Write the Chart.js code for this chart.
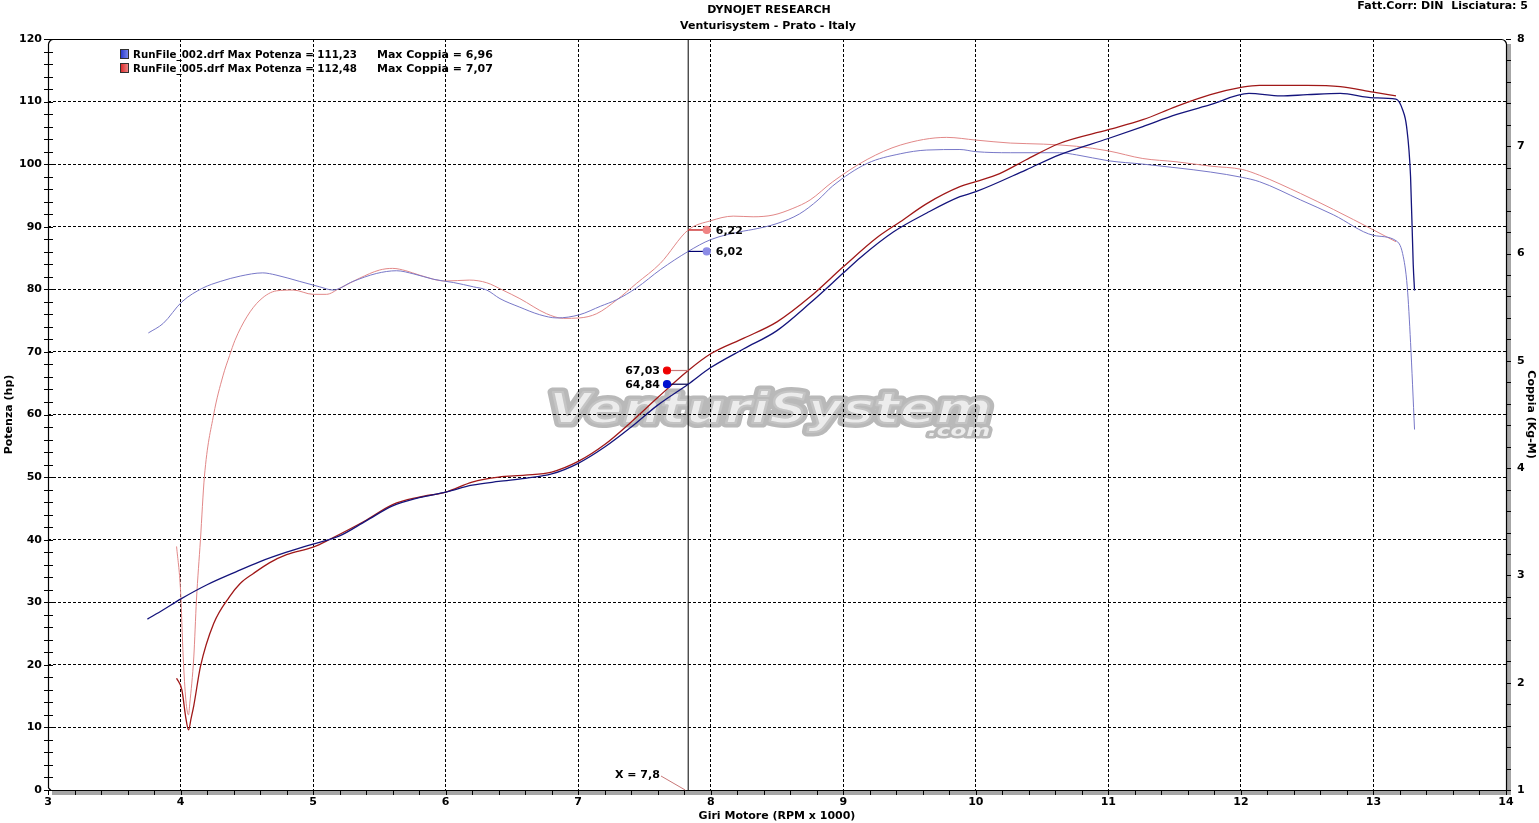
<!DOCTYPE html>
<html>
<head>
<meta charset="utf-8">
<title>Dynojet - Venturisystem</title>
<script src="https://cdn.jsdelivr.net/npm/chart.js@4.4.0/dist/chart.umd.min.js"></script>
<style>
  html, body { margin: 0; padding: 0; background: #fff; }
  #wrap { width: 1539px; height: 823px; }
</style>
</head>
<body>
<div id="wrap"><canvas id="dynoChart" width="1539" height="823"></canvas></div>
<script>
// run names and summary values from the legend
const runNames = ['RunFile_002.drf', 'RunFile_005.drf'];
const maxPotenza = ['111,23', '112,48'];
const maxCoppia = ['6,96', '7,07'];

// RunFile_002 (blue) - power, hp
const rpmPowA = [3.75, 3.87, 4.0, 4.2, 4.4, 4.6, 4.8, 5.0, 5.2, 5.4, 5.6, 5.8, 6.0, 6.2, 6.4, 6.6, 6.8, 7.0, 7.2, 7.4, 7.6, 7.83,
  8.0, 8.25, 8.5, 8.75, 9.0, 9.13, 9.38, 9.63, 9.88, 10.0, 10.38, 10.63, 11.0, 11.26, 11.51, 11.77, 12.06, 12.3, 12.5, 12.75,
  13.0, 13.17, 13.22, 13.25, 13.28, 13.3, 13.31];
const powA = [27.3, 28.8, 30.5, 32.8, 34.7, 36.5, 38.0, 39.3, 40.6, 43.0, 45.4, 46.7, 47.6, 48.7, 49.3, 49.8, 50.5, 52.2, 54.8, 58.0, 61.5, 64.84,
  67.5, 70.5, 73.4, 77.8, 82.6, 85.1, 89.2, 92.2, 94.8, 95.6, 99.1, 101.5, 104.1, 106.0, 107.9, 109.5, 111.3, 110.9, 111.1, 111.3,
  110.6, 110.4, 108.7, 106.0, 98.0, 84.0, 79.8];

// RunFile_005 (red) - power, hp
const rpmPowB = [3.97, 4.01, 4.04, 4.06, 4.08, 4.1, 4.15, 4.25, 4.37, 4.45, 4.55, 4.67, 4.8, 5.0, 5.13, 5.4, 5.6, 5.8, 6.0, 6.2, 6.4, 6.6, 6.8,
  7.0, 7.2, 7.4, 7.6, 7.83, 8.0, 8.25, 8.5, 8.75, 9.0, 9.25, 9.43, 9.63, 9.88, 10.0, 10.18, 10.38, 10.63, 11.0, 11.26, 11.51, 11.77,
  12.01, 12.14, 12.5, 12.75, 13.0, 13.17];
const powB = [17.85, 16.0, 11.5, 9.6, 11.5, 13.5, 19.7, 26.6, 30.9, 33.0, 34.6, 36.3, 37.6, 38.8, 40.1, 43.1, 45.6, 46.8, 47.6, 49.2, 50.0, 50.3, 50.8,
  52.5, 55.2, 58.8, 62.7, 67.03, 69.7, 72.2, 74.8, 78.8, 83.6, 88.2, 90.8, 93.7, 96.4, 97.2, 98.5, 100.7, 103.3, 105.5, 107.1, 109.2, 111.1,
  112.3, 112.6, 112.6, 112.4, 111.5, 110.9];

// RunFile_002 (blue) - torque, Kg-M
const rpmTorA = [3.757, 3.87, 4.01, 4.17, 4.3, 4.45, 4.62, 4.72, 4.9, 5.05, 5.15, 5.3, 5.48, 5.63, 5.76, 5.91, 6.06, 6.21, 6.31, 6.41, 6.56,
  6.71, 6.84, 7.01, 7.17, 7.29, 7.44, 7.62, 7.83, 8.0, 8.25, 8.32, 8.5, 8.67, 8.81, 8.92, 9.18, 9.43, 9.63, 9.88, 10.0, 10.26, 10.63,
  10.76, 11.0, 11.26, 11.51, 11.77, 12.01, 12.14, 12.45, 12.7, 13.0, 13.17, 13.22, 13.255, 13.28, 13.31];
const torA = [5.26, 5.35, 5.55, 5.68, 5.74, 5.79, 5.82, 5.80, 5.74, 5.69, 5.66, 5.74, 5.815, 5.84, 5.81, 5.76, 5.73, 5.69, 5.66, 5.58, 5.50,
  5.43, 5.40, 5.43, 5.51, 5.57, 5.68, 5.85, 6.02, 6.13, 6.21, 6.225, 6.28, 6.37, 6.5, 6.63, 6.84, 6.93, 6.965, 6.97, 6.95, 6.94, 6.94,
  6.92, 6.865, 6.834, 6.80, 6.76, 6.71, 6.67, 6.5, 6.36, 6.17, 6.12, 6.0, 5.69, 5.17, 4.36];

// RunFile_005 (red) - torque, Kg-M
const rpmTorB = [3.97, 4.0, 4.02, 4.04, 4.06, 4.07, 4.1, 4.12, 4.15, 4.18, 4.25, 4.32, 4.37, 4.41, 4.5, 4.6, 4.725, 4.85, 5.0, 5.1, 5.2,
  5.35, 5.5, 5.6, 5.7, 5.8, 6.0, 6.18, 6.31, 6.43, 6.56, 6.76, 6.89, 7.01, 7.14, 7.29, 7.44, 7.62, 7.83, 8.0, 8.17, 8.32, 8.47, 8.62,
  8.75, 8.92, 9.18, 9.43, 9.78, 10.0, 10.26, 10.51, 10.76, 11.0, 11.26, 11.51, 11.77, 12.01, 12.14, 12.45, 12.7, 13.0, 13.17];
const torB = [3.27, 2.86, 2.24, 1.84, 1.70, 1.81, 2.24, 2.77, 3.33, 3.92, 4.5, 4.86, 5.05, 5.19, 5.41, 5.567, 5.653, 5.66, 5.62, 5.62, 5.676,
  5.77, 5.846, 5.862, 5.84, 5.80, 5.744, 5.753, 5.728, 5.66, 5.58, 5.44, 5.396, 5.40, 5.44, 5.567, 5.722, 5.909, 6.22, 6.306, 6.349, 6.343, 6.359, 6.421,
  6.5, 6.669, 6.877, 7.011, 7.083, 7.058, 7.03, 7.02, 7.0, 6.957, 6.886, 6.856, 6.815, 6.784, 6.73, 6.56, 6.41, 6.22, 6.11];

// cursor readout
const cursorRpm = 7.83;
const cursorText = 'X = 7,8';
const powerAtCursor = [64.84, 67.03];
const powerAtCursorText = ['64,84', '67,03'];
const torqueAtCursor = [6.02, 6.22];
const torqueAtCursorText = ['6,02', '6,22'];
const powerMarkerRpm = 7.67;
const torqueMarkerRpm = 7.97;

const FONT = '"DejaVu Sans", Verdana, sans-serif';
Chart.defaults.font.family = FONT;
Chart.defaults.font.size = 11;
Chart.defaults.font.weight = 'bold';
Chart.defaults.color = '#000';

const zip = (xs, ys) => xs.map((x, i) => ({ x: x, y: ys[i] }));

const blueDark = '#14147c';
const redDark = '#a01818';
const blueLight = '#7878c8';
const redLight = '#e28888';

const curve = (label, xs, ys, axis, color, width) => ({
  label: label,
  data: zip(xs, ys),
  yAxisID: axis,
  borderColor: color,
  borderWidth: width,
  pointRadius: 0,
  cubicInterpolationMode: 'monotone',
  fill: false,
});

const marker = (from, to, value, axis, lineColor, dotColor) => ({
  data: [{ x: from, y: value }, { x: to, y: value }],
  yAxisID: axis,
  borderColor: lineColor,
  borderWidth: 1.2,
  pointRadius: [0, 3.5],
  pointBackgroundColor: dotColor,
  pointBorderColor: dotColor,
  order: -1,
});

const datasets = [
  curve('RunFile_002 potenza', rpmPowA, powA, 'y', blueDark, 1.3),
  curve('RunFile_005 potenza', rpmPowB, powB, 'y', redDark, 1.3),
  curve('RunFile_002 coppia', rpmTorA, torA, 'y2', blueLight, 1),
  curve('RunFile_005 coppia', rpmTorB, torB, 'y2', redLight, 1),
  {
    label: 'cursor',
    data: [{ x: cursorRpm, y: 0 }, { x: cursorRpm, y: 120 }],
    yAxisID: 'y',
    borderColor: '#000',
    borderWidth: 1,
    pointRadius: 0,
  },
  marker(cursorRpm, powerMarkerRpm, powerAtCursor[0], 'y', '#000050', '#0010d0'),
  marker(cursorRpm, powerMarkerRpm, powerAtCursor[1], 'y', '#c87878', '#ee0000'),
  marker(cursorRpm, torqueMarkerRpm, torqueAtCursor[0], 'y2', '#000070', '#8c8ce6'),
  marker(cursorRpm, torqueMarkerRpm, torqueAtCursor[1], 'y2', '#c00000', '#f08484'),
];

const isInt = v => Math.abs(v - Math.round(v)) < 1e-6;

// draw text squeezed to a given width
function fitText(ctx, text, x, y, width) {
  const w = ctx.measureText(text).width;
  ctx.save();
  ctx.translate(x, y);
  ctx.scale(Math.min(1, width / w), 1);
  ctx.fillText(text, 0, 0);
  ctx.restore();
}

function drawLogo(chart) {
  const ctx = chart.ctx;
  const x = chart.scales.x;
  const y = chart.scales.y;
  const left = x.getPixelForValue(6.78);
  const right = x.getPixelForValue(10.12);
  const base = y.getPixelForValue(58.6);
  ctx.save();
  ctx.font = 'italic bold 43px ' + FONT;
  const w = ctx.measureText('VenturiSystem').width;
  ctx.translate(left, base);
  ctx.scale((right - left) / w, 1);
  ctx.lineJoin = 'round';
  ctx.lineWidth = 9;
  ctx.strokeStyle = '#b9b9b9';
  ctx.strokeText('VenturiSystem', 0, 0);
  ctx.fillStyle = '#ececec';
  ctx.fillText('VenturiSystem', 0, 0);
  ctx.lineWidth = 2;
  ctx.strokeStyle = '#c4c4c4';
  ctx.strokeText('VenturiSystem', 0, 0);
  ctx.restore();

  ctx.save();
  ctx.font = 'italic bold 15px ' + FONT;
  const cx = x.getPixelForValue(9.64);
  const cy = y.getPixelForValue(56.6);
  const cw = ctx.measureText('.com').width;
  ctx.translate(cx, cy);
  ctx.scale(62 / cw, 1);
  ctx.lineJoin = 'round';
  ctx.lineWidth = 5;
  ctx.strokeStyle = '#b9b9b9';
  ctx.strokeText('.com', 0, 0);
  ctx.fillStyle = '#ececec';
  ctx.fillText('.com', 0, 0);
  ctx.restore();
}

// white page, logo, frame and texts that are not axes
const dynoDecor = {
  id: 'dynoDecor',
  beforeDraw(chart) {
    const ctx = chart.ctx;
    ctx.save();
    ctx.fillStyle = '#fff';
    ctx.fillRect(0, 0, chart.width, chart.height);
    ctx.restore();
    drawLogo(chart);
  },
  afterDraw(chart) {
    const ctx = chart.ctx;
    const a = chart.chartArea;
    const x = chart.scales.x;
    const y = chart.scales.y;
    const y2 = chart.scales.y2;
    ctx.save();

    // grey shadow bands
    ctx.fillStyle = '#a6a6a6';
    ctx.fillRect(a.left + 4, a.bottom, a.right - a.left + 1, 5);
    ctx.fillRect(a.right, a.top + 5, 5, a.bottom - a.top);

    // frame
    ctx.strokeStyle = '#000';
    ctx.lineWidth = 1.2;
    const r = 5;
    ctx.beginPath();
    ctx.moveTo(a.left + 3, a.bottom + 0.5);
    ctx.lineTo(a.left + 0.5, a.bottom - 2);
    ctx.lineTo(a.left + 0.5, a.top + r);
    ctx.arcTo(a.left + 0.5, a.top + 0.5, a.left + r, a.top + 0.5, r);
    ctx.lineTo(a.right - r, a.top + 0.5);
    ctx.arcTo(a.right + 0.5, a.top + 0.5, a.right + 0.5, a.top + r, r);
    ctx.lineTo(a.right + 0.5, a.bottom + 0.5);
    ctx.lineTo(a.left + 3, a.bottom + 0.5);
    ctx.stroke();

    // minor ticks
    ctx.lineWidth = 1;
    ctx.beginPath();
    for (let v = 3; v <= 14.001; v += 0.2) {
      const px = Math.round(x.getPixelForValue(v)) + 0.5;
      ctx.moveTo(px, a.bottom);
      ctx.lineTo(px, a.bottom + 5);
    }
    for (let v = 0; v <= 120.001; v += 2) {
      const py = Math.round(y.getPixelForValue(v)) + 0.5;
      ctx.moveTo(a.left - 4, py);
      ctx.lineTo(a.left + 5, py);
    }
    for (let v = 1; v <= 8.001; v += 0.2) {
      const py = Math.round(y2.getPixelForValue(v)) + 0.5;
      ctx.moveTo(a.right, py);
      ctx.lineTo(a.right + 5, py);
    }
    ctx.stroke();

    // header
    ctx.fillStyle = '#000';
    ctx.font = 'bold 11px ' + FONT;
    ctx.textBaseline = 'middle';
    ctx.textAlign = 'center';
    ctx.fillText('DYNOJET RESEARCH', 769, 10);
    ctx.fillText('Venturisystem - Prato - Italy', 768, 26);
    ctx.textAlign = 'right';
    ctx.fillText('Fatt.Corr: DIN  Lisciatura: 5', 1528, 6);

    // legend
    const legendColors = [['#2030c8', '#8090f0'], ['#d82020', '#f09090']];
    ctx.textAlign = 'left';
    for (let i = 0; i < runNames.length; i++) {
      const ly = 54 + i * 14;
      const g = ctx.createLinearGradient(120, 0, 129, 0);
      g.addColorStop(0, legendColors[i][0]);
      g.addColorStop(1, legendColors[i][1]);
      ctx.fillStyle = g;
      ctx.fillRect(120, ly - 5, 9, 10);
      ctx.strokeStyle = '#303030';
      ctx.strokeRect(120.5, ly - 4.5, 8, 9);
      ctx.fillStyle = '#000';
      fitText(ctx, runNames[i] + ' Max Potenza = ' + maxPotenza[i], 133, ly + 1, 224);
      fitText(ctx, 'Max Coppia = ' + maxCoppia[i], 377, ly + 1, 144);
    }

    // cursor readouts
    const pmx = x.getPixelForValue(powerMarkerRpm);
    const tmx = x.getPixelForValue(torqueMarkerRpm);
    ctx.textAlign = 'right';
    for (let i = 0; i < powerAtCursor.length; i++) {
      ctx.fillText(powerAtCursorText[i], pmx - 7, y.getPixelForValue(powerAtCursor[i]) + 0.5);
    }
    ctx.textAlign = 'left';
    for (let i = 0; i < torqueAtCursor.length; i++) {
      ctx.fillText(torqueAtCursorText[i], tmx + 9, y2.getPixelForValue(torqueAtCursor[i]) + 1);
    }

    // X = 7,8 tag
    const cpx = x.getPixelForValue(cursorRpm);
    ctx.textAlign = 'left';
    ctx.fillText(cursorText, 615, 775);
    ctx.strokeStyle = '#c87878';
    ctx.lineWidth = 1;
    ctx.beginPath();
    ctx.moveTo(661, 776);
    ctx.lineTo(cpx - 3, a.bottom);
    ctx.stroke();

    ctx.restore();
  },
};

const gridColor = (ctx, lo, hi) => {
  const v = ctx.tick ? ctx.tick.value : null;
  if (v === null || v <= lo || v >= hi) return 'rgba(0,0,0,0)';
  return '#000';
};

new Chart(document.getElementById('dynoChart'), {
  type: 'line',
  data: { datasets: datasets },
  options: {
    responsive: false,
    animation: false,
    events: [],
    layout: { padding: { top: 39, left: 0, right: 0, bottom: 0 } },
    plugins: {
      legend: { display: false },
      title: { display: false },
      tooltip: { enabled: false },
    },
    scales: {
      x: {
        type: 'linear',
        min: 3,
        max: 14,
        afterFit: s => { s.height = 33; },
        ticks: {
          stepSize: 1,
          autoSkip: false,
          maxRotation: 0,
          padding: 6,
          font: { size: 11, weight: 'bold' },
          callback: v => (isInt(v) ? String(Math.round(v)) : ''),
        },
        grid: {
          color: c => gridColor(c, 3, 14),
          lineWidth: 1,
          drawTicks: false,
        },
        border: { display: false, dash: [3, 2] },
        title: {
          display: true,
          text: 'Giri Motore (RPM x 1000)',
          font: { size: 11, weight: 'bold' },
          padding: { top: 0, bottom: 0 },
        },
      },
      y: {
        type: 'linear',
        position: 'left',
        min: 0,
        max: 120,
        afterFit: s => { s.width = 48; },
        ticks: {
          stepSize: 10,
          padding: 6,
          font: { size: 11, weight: 'bold' },
        },
        grid: {
          color: c => gridColor(c, 0, 120),
          lineWidth: 1,
          drawTicks: false,
        },
        border: { display: false, dash: [3, 2] },
        title: {
          display: true,
          text: 'Potenza (hp)',
          font: { size: 11, weight: 'bold' },
          padding: { top: 3, bottom: 0 },
        },
      },
      y2: {
        type: 'linear',
        position: 'right',
        min: 1,
        max: 8,
        afterFit: s => { s.width = 33; },
        ticks: {
          stepSize: 1,
          padding: 11,
          font: { size: 11, weight: 'bold' },
        },
        grid: { drawOnChartArea: false, drawTicks: false },
        border: { display: false },
        title: {
          display: true,
          text: 'Coppia (Kg-M)',
          font: { size: 11, weight: 'bold' },
          padding: { top: 2, bottom: 0 },
        },
      },
    },
  },
  plugins: [dynoDecor],
});
</script>
</body>
</html>
